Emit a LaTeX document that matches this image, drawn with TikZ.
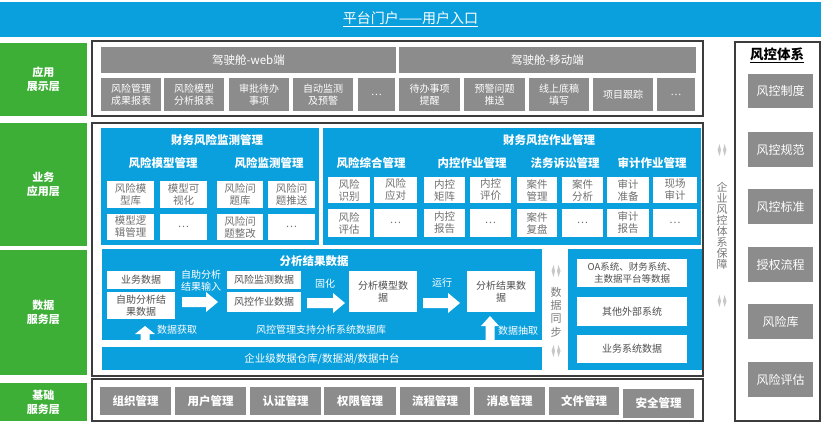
\documentclass[tikz,border=0pt]{standalone}
\usepackage{fontspec}
\setmainfont{Noto Sans CJK SC}
\usetikzlibrary{calc}
\definecolor{cblue}{HTML}{0AA0DE}
\definecolor{cgreen}{HTML}{3DAE36}
\definecolor{cgray}{HTML}{8C8C8C}
\definecolor{ctxt}{HTML}{707070}
\definecolor{cdark}{HTML}{505050}
\definecolor{cframe}{HTML}{3C3C3C}
\definecolor{clight}{HTML}{C8C8C8}
\definecolor{cvtext}{HTML}{7A7A7A}
\newcommand\RB[7]{\node[#2, minimum width={(#5-#3)*1pt}, minimum height={(#6-#4)*1pt}] (#1) at ({(#3+#5)/2},{(#4+#6)/2}) {#7};}
\newcommand\dbl[2]{%
  \fill[clight] ({#1-2.5},{#2-6}) -- ({#1-1},{#2}) -- ({#1-2.5},{#2+6}) -- ({#1-4.5},{#2}) -- cycle;
  \fill[clight] ({#1+2.5},{#2-6}) -- ({#1+4.5},{#2}) -- ({#1+2.5},{#2+6}) -- ({#1+1},{#2}) -- cycle;}
% right-pointing block arrow: from node, to node, y-row coordinate, gap start, gap end
\newcommand\BArrowR[5]{%
  \path ([xshift=#4pt]#1.east |- #3) coordinate (bs) ([xshift=-#5pt]#2.west |- #3) coordinate (be);
  \fill[white] let \p1=(bs), \p2=(be) in
    (\x1,\y1+5pt) -- (\x2-12pt,\y1+5pt) -- (\x2-12pt,\y1+10pt) -- (\x2,\y1)
    -- (\x2-12pt,\y1-10pt) -- (\x2-12pt,\y1-5pt) -- (\x1,\y1-5pt) -- cycle;}
% upward block arrow: x coordinate, target node, gap, base node anchor, head half, head length
\newcommand\BArrowU[6]{%
  \path (#1 |- #2.south) ++(0,#3) coordinate (ut) (#1 |- #4) coordinate (ub);
  \fill[white] let \p1=(ut), \p2=(ub) in
    (\x1-4.5pt,\y2) -- (\x1-4.5pt,\y1-#6pt) -- (\x1-#5pt,\y1-#6pt) -- (\x1,\y1)
    -- (\x1+#5pt,\y1-#6pt) -- (\x1+4.5pt,\y1-#6pt) -- (\x1+4.5pt,\y2) -- cycle;}
\tikzset{
  bx0/.style={inner sep=0pt, outer sep=0pt, align=center},
  greenlbl/.style={bx0, fill=cgreen, text=white, font=\fontsize{11}{14}\selectfont\bfseries},
  frm/.style={bx0, draw=cframe, line width=1.1pt},
  gbox/.style={bx0, fill=cgray, text=white, font=\fontsize{10}{11.5}\selectfont},
  ghead/.style={bx0, fill=cgray, text=white, font=\fontsize{11.5}{13}\selectfont},
  bbox/.style={bx0, fill=cblue},
  wbox/.style={bx0, fill=white, text=ctxt, font=\fontsize{10.5}{12}\selectfont},
  dbox/.style={bx0, fill=white, text=cdark, font=\fontsize{10}{12}\selectfont},
  rbox/.style={bx0, fill=cgray, text=white, font=\fontsize{12}{14}\selectfont},
  fbox/.style={bx0, fill=cgray, text=white, font=\fontsize{11.5}{13}\selectfont\bfseries},
  wtitle/.style={bx0, text=white, font=\fontsize{11.5}{13}\selectfont\bfseries},
  wlabel/.style={bx0, text=white, font=\fontsize{10}{12}\selectfont},
  vtext/.style={bx0, text=cvtext, font=\fontsize{11}{13.3}\selectfont},
}
\begin{document}
\begin{tikzpicture}[x=1pt, y=-1pt]
\useasboundingbox (0,0) rectangle (823,423);
% banner
\RB{top}{bbox, text=white, font=\fontsize{14}{16}\selectfont}{0}{2}{821}{37}{\underline{平台门户——用户入口}}
% layer labels
\RB{g1}{greenlbl}{0}{43}{87}{116}{应用\\展示层}
\RB{g2}{greenlbl}{0}{123}{87}{246}{业务\\应用层}
\RB{g3}{greenlbl}{0}{250}{87}{375}{数据\\服务层}
\RB{g4}{greenlbl}{0}{383}{87}{421}{基础\\服务层}
% frames
\RB{f1}{frm}{92}{41}{703}{116}{}
\RB{f2}{frm}{92}{123}{703}{376}{}
\RB{f3}{frm}{92}{379}{703}{421}{}
\RB{f4}{frm}{735}{42}{820}{421}{}
% application layer
\RB{web}{ghead}{101}{47}{396}{73}{驾驶舱-web端}
\RB{mob}{ghead}{399}{47}{696}{73}{驾驶舱-移动端}
\RB{w1}{gbox}{101}{78}{161}{111}{风险管理\\成果报表}
\RB{w2}{gbox}{164}{78}{224}{111}{风险模型\\分析报表}
\RB{w3}{gbox}{229}{78}{289}{111}{审批待办\\事项}
\RB{w4}{gbox}{293}{78}{353}{111}{自动监测\\及预警}
\RB{w5}{gbox}{358}{78}{395}{111}{…}
\RB{m1}{gbox}{399}{78}{460}{111}{待办事项\\提醒}
\RB{m2}{gbox}{464}{78}{525}{111}{预警问题\\推送}
\RB{m3}{gbox}{529}{78}{589}{111}{线上底稿\\填写}
\RB{m4}{gbox}{593}{78}{653}{111}{项目跟踪}
\RB{m5}{gbox}{657}{78}{695}{111}{…}
% business layer - left
\RB{bl}{bbox}{101}{128}{319}{245}{}
\node[wtitle] (blt) at (217,140) {财务风险监测管理};
\node[wtitle] (bls1) at (163,163) {风险模型管理};
\node[wtitle] (bls2) at (269,163) {风险监测管理};
\RB{b11}{wbox}{107}{181}{154}{208}{风险模\\型库}
\RB{b12}{wbox}{160}{181}{207}{208}{模型可\\视化}
\RB{b13}{wbox}{107}{214}{154}{240}{模型逻\\辑管理}
\RB{b14}{wbox}{160}{214}{207}{240}{…}
\RB{b21}{wbox}{217}{181}{263}{208}{风险问\\题库}
\RB{b22}{wbox}{268}{181}{315}{208}{风险问\\题推送}
\RB{b23}{wbox}{217}{214}{263}{240}{风险问\\题整改}
\RB{b24}{wbox}{268}{214}{315}{240}{…}
% business layer - right
\RB{br}{bbox}{323}{128}{701}{245}{}
\node[wtitle] (brt) at (549,140) {财务风控作业管理};
\node[wtitle] (brs1) at (371,163) {风险综合管理};
\node[wtitle] (brs2) at (472,163) {内控作业管理};
\node[wtitle] (brs3) at (565,163) {法务诉讼管理};
\node[wtitle] (brs4) at (652,163) {审计作业管理};
\RB{c11}{wbox}{328}{177}{370}{203}{风险\\识别}
\RB{c12}{wbox}{374}{177}{417}{203}{风险\\应对}
\RB{c13}{wbox}{424}{177}{465}{203}{内控\\矩阵}
\RB{c14}{wbox}{470}{177}{511}{203}{内控\\评价}
\RB{c15}{wbox}{517}{177}{557}{203}{案件\\管理}
\RB{c16}{wbox}{562}{177}{603}{203}{案件\\分析}
\RB{c17}{wbox}{607}{177}{649}{203}{审计\\准备}
\RB{c18}{wbox}{653}{177}{697}{203}{现场\\审计}
\RB{c21}{wbox}{328}{209}{370}{237}{风险\\评估}
\RB{c22}{wbox}{374}{209}{417}{237}{…}
\RB{c23}{wbox}{424}{209}{465}{237}{内控\\报告}
\RB{c24}{wbox}{470}{209}{511}{237}{…}
\RB{c25}{wbox}{517}{209}{557}{237}{案件\\复盘}
\RB{c26}{wbox}{562}{209}{603}{237}{…}
\RB{c27}{wbox}{607}{209}{649}{237}{审计\\报告}
\RB{c28}{wbox}{653}{209}{697}{237}{…}
% data layer - left
\RB{dl}{bbox}{102}{249}{542}{340}{}
\node[wtitle] (dlt) at (314,261) {分析结果数据};
\RB{d1}{dbox}{107}{271}{175}{289}{业务数据}
\RB{d2}{dbox}{107}{292}{175}{319}{自助分析结\\果数据}
\RB{d3}{dbox}{227}{271}{301}{289}{风险监测数据}
\RB{d4}{dbox}{227}{292}{301}{312}{风控作业数据}
\RB{d5}{dbox}{349}{271}{417}{312}{分析模型数\\据}
\RB{d6}{dbox}{467}{271}{535}{312}{分析结果数\\据}
\node[wlabel] (l1) at (201,281) {自助分析\\结果输入};
\node[wlabel] (l2) at (325,284) {固化};
\node[wlabel] (l3) at (442,283) {运行};
\node[wlabel] (l4) at (321,330) {风控管理支持分析系统数据库};
\node[wlabel] (l5) at (177,330) {数据获取};
\node[wlabel] (l6) at (518,331) {数据抽取};
\coordinate (row1) at (0,302);
\coordinate (row2) at (0,303);
\BArrowR{d2}{d4}{row1}{7}{9}
\BArrowR{d4}{d5}{row2}{6}{4}
\BArrowR{d5}{d6}{row2}{6}{7}
\coordinate (ux1) at (145,0);
\coordinate (ux2) at (490,0);
\BArrowU{ux1}{d2}{7}{dl.south}{10}{8}
\BArrowU{ux2}{d6}{4}{dl.south}{9}{10}
\RB{dw}{bbox, text=white, font=\fontsize{10.5}{12}\selectfont}{102}{347}{542}{370}{企业级数据仓库/数据湖/数据中台}
% data layer - right
\RB{dr}{bbox}{568}{249}{702}{370}{}
\RB{r1}{dbox, font=\fontsize{9.5}{11.5}\selectfont}{577}{259}{687}{287}{OA系统、财务系统、\\主数据平台等数据}
\RB{r2}{dbox}{577}{297}{687}{326}{其他外部系统}
\RB{r3}{dbox}{577}{335}{687}{363}{业务系统数据}
% vertical texts and icons
\node[vtext] (sync) at (556,312) {数\\据\\同\\步};
\dbl{556}{271}
\dbl{556}{351}
\node[vtext, font=\fontsize{11}{11}\selectfont] (guar) at (722,226) {企\\业\\风\\控\\体\\系\\保\\障};
\dbl{722}{150}
\dbl{722}{301}
% right column
\node[bx0, font=\fontsize{13.5}{15}\selectfont\bfseries] (rt) at (777,55) {\underline{风控体系}};
\RB{k1}{rbox}{748}{74}{813}{108}{风控制度}
\RB{k2}{rbox}{748}{132}{813}{167}{风控规范}
\RB{k3}{rbox}{748}{189}{813}{224}{风控标准}
\RB{k4}{rbox}{748}{247}{813}{282}{授权流程}
\RB{k5}{rbox}{748}{304}{813}{339}{风险库}
\RB{k6}{rbox}{748}{362}{813}{397}{风险评估}
% basic layer
\RB{j1}{fbox}{100}{387}{171}{415}{组织管理}
\RB{j2}{fbox}{175}{387}{246}{415}{用户管理}
\RB{j3}{fbox}{250}{387}{321}{415}{认证管理}
\RB{j4}{fbox}{324}{387}{396}{415}{权限管理}
\RB{j5}{fbox}{400}{387}{470}{415}{流程管理}
\RB{j6}{fbox}{474}{387}{545}{415}{消息管理}
\RB{j7}{fbox}{549}{387}{619}{415}{文件管理}
\RB{j8}{fbox}{623}{389}{694}{418}{安全管理}
\end{tikzpicture}
\end{document}
